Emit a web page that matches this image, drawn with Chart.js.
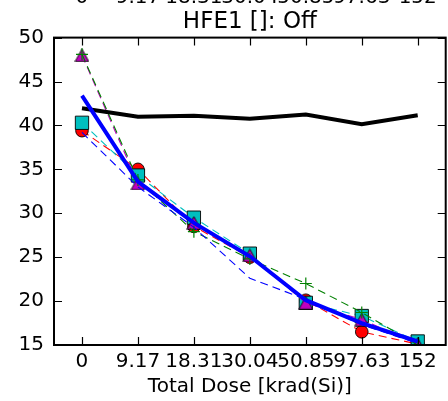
<!DOCTYPE html>
<html>
<head>
<meta charset="utf-8">
<script src="https://cdn.jsdelivr.net/npm/chart.js@4.4.1/dist/chart.umd.min.js"></script>
<style>
  html, body { margin: 0; padding: 0; background: #fff; overflow: hidden; }
  #wrap { width: 448px; height: 401px; overflow: hidden; }
  canvas { display: block; }
</style>
</head>
<body>
<div id="wrap"><canvas id="c" width="456" height="401"></canvas></div>
<script>
// dose steps (krad(Si)) and hFE readings per device
const doses = ['0', '9.17', '18.31', '30.04', '50.85', '97.63', '152'];
const dev1 = [39.4, 35.0, 28.5, 25.0, 20.1, 16.5, 15.1];   // red circles
const dev2 = [40.3, 34.3, 29.5, 25.4, 19.8, 18.3, 15.4];   // cyan squares
const dev3 = [48.0, 33.4, 28.9, 25.2, 19.8, 17.9, 15.1];   // magenta triangles
const dev4 = [48.1, 33.8, 27.9, 24.8, 22.0, 18.7, 15.0];   // green plus
const dev5 = [39.2, 33.0, 28.4, 22.6, 20.2, 17.3, 15.2];   // blue dashed
const ctrl = [41.95, 41.0, 41.1, 40.75, 41.25, 40.15, 41.15]; // control (black)
const avg  = [43.4, 33.6, 28.9, 25.1, 20.1, 17.5, 15.4];   // mean (blue)
const yTicks = { min: 15, max: 50, step: 5 };

const FONT = "'DejaVu Sans', sans-serif";

// matplotlib-style '^' marker, centred on its bounding box
function triMarker(fill){
  const cv = document.createElement('canvas'); cv.width = 15; cv.height = 14;
  const g = cv.getContext('2d');
  g.beginPath(); g.moveTo(7.5, 0.7); g.lineTo(14.3, 13.3); g.lineTo(0.7, 13.3); g.closePath();
  g.fillStyle = fill; g.fill(); g.lineWidth = 0.9; g.strokeStyle = '#000'; g.stroke();
  return cv;
}

function dashed(label, data, color, order, pt){
  return Object.assign({
    label, data, order,
    borderColor: color, borderWidth: 1.1, borderDash: [8, 5],
    pointRadius: 0, pointBackgroundColor: color, pointBorderColor: '#000', pointBorderWidth: 0.9,
    tension: 0, clip: 0
  }, pt || {});
}

// inward ticks on all four sides, the frame, and the twin top labels
const frame = {
  id: 'frame',
  afterDatasetsDraw(chart){
    const {ctx, chartArea: a, scales: {x, y}} = chart;
    ctx.save();
    ctx.strokeStyle = '#000';
    ctx.lineWidth = 1.2;
    ctx.beginPath();
    x.ticks.forEach((t, i) => {
      const px = Math.round(x.getPixelForTick(i)) + 0.5;
      ctx.moveTo(px, a.bottom); ctx.lineTo(px, a.bottom - 8);
      ctx.moveTo(px, a.top); ctx.lineTo(px, a.top + 8);
    });
    y.ticks.forEach((t, i) => {
      const py = Math.round(y.getPixelForTick(i)) + 0.5;
      ctx.moveTo(a.left, py); ctx.lineTo(a.left + 8, py);
      ctx.moveTo(a.right, py); ctx.lineTo(a.right - 8, py);
    });
    ctx.stroke();
    ctx.lineWidth = 2;
    ctx.strokeRect(a.left, a.top, a.right - a.left, a.bottom - a.top);
    ctx.fillStyle = '#000';
    ctx.font = '20px ' + FONT;
    ctx.textAlign = 'center';
    ctx.textBaseline = 'alphabetic';
    doses.forEach((d, i) => ctx.fillText(d, x.getPixelForValue(i), 3));
    ctx.restore();
  }
};

new Chart(document.getElementById('c'), {
  type: 'line',
  data: {
    labels: doses,
    datasets: [
      dashed('dev1', dev1, '#ff0000', 7, { pointStyle: 'circle', pointRadius: 6.3 }),
      dashed('dev2', dev2, '#00bfbf', 6, { pointStyle: 'rect', pointRadius: 9.4 }),
      dashed('dev3', dev3, '#bf00bf', 5, { pointStyle: triMarker('#bf00bf'), pointRadius: 7 }),
      dashed('dev4', dev4, '#008000', 4, { pointStyle: 'cross', pointRadius: 6, pointBorderColor: '#008000', pointBorderWidth: 1.2 }),
      dashed('dev5', dev5, '#0000ff', 3),
      { label: 'control', data: ctrl, order: 2, borderColor: '#000', borderWidth: 4, pointRadius: 0, tension: 0, clip: 0 },
      { label: 'mean', data: avg, order: 1, borderColor: '#0000ff', borderWidth: 4, pointRadius: 0, tension: 0, clip: 0 }
    ]
  },
  options: {
    responsive: false,
    animation: false,
    events: [],
    layout: { padding: { top: 0, right: 5, bottom: 0, left: 0 } },
    plugins: {
      legend: { display: false },
      tooltip: { enabled: false },
      title: {
        display: true, text: 'HFE1 []: Off', color: '#000', fullSize: false,
        font: { family: FONT, size: 23, weight: 'normal', lineHeight: 1.2 },
        padding: { top: 8, bottom: 2 }
      }
    },
    scales: {
      x: {
        type: 'category', offset: true,
        grid: { display: false, drawTicks: false },
        border: { display: false },
        ticks: { color: '#000', font: { family: FONT, size: 20 }, padding: 5, autoSkip: false, maxRotation: 0, minRotation: 0 },
        title: { display: true, text: 'Total Dose [krad(Si)]', color: '#000', font: { family: FONT, size: 20 }, padding: { top: 0, bottom: 2 } },
        afterFit: s => { s.height = 56; }
      },
      y: {
        min: yTicks.min, max: yTicks.max,
        grid: { display: false, drawTicks: false },
        border: { display: false },
        ticks: { stepSize: yTicks.step, color: '#000', font: { family: FONT, size: 20 }, padding: 10 },
        afterFit: s => { s.width = 54; }
      }
    }
  },
  plugins: [frame]
});
</script>
</body>
</html>
